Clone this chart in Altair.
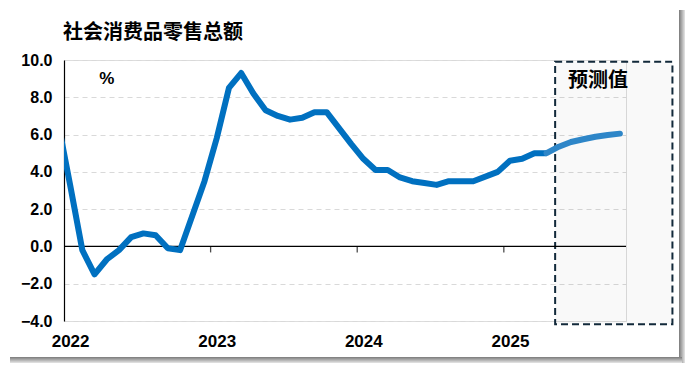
import altair as alt
import pandas as pd

title_text = "社会消费品零售总额"
unit_label = "%"
forecast_label = "预测值"

# YTD growth, % (January is reported together with February)
months_actual = [
    "2022-02", "2022-03", "2022-04", "2022-05", "2022-06", "2022-07", "2022-08",
    "2022-09", "2022-10", "2022-11", "2022-12",
    "2023-02", "2023-03", "2023-04", "2023-05", "2023-06", "2023-07", "2023-08",
    "2023-09", "2023-10", "2023-11", "2023-12",
    "2024-02", "2024-03", "2024-04", "2024-05", "2024-06", "2024-07", "2024-08",
    "2024-09", "2024-10", "2024-11", "2024-12",
    "2025-02", "2025-03", "2025-04", "2025-05", "2025-06",
]
values_actual = [
    6.7, 3.3, -0.2, -1.5, -0.7, -0.2, 0.5, 0.7, 0.6, -0.1, -0.2,
    3.5, 5.8, 8.5, 9.3, 8.2, 7.3, 7.0, 6.8, 6.9, 7.2, 7.2,
    5.5, 4.7, 4.1, 4.1, 3.7, 3.5, 3.4, 3.3, 3.5, 3.5, 3.5,
    4.0, 4.6, 4.7, 5.0, 5.0,
]
months_forecast = ["2025-06", "2025-07", "2025-08", "2025-09", "2025-10", "2025-11", "2025-12"]
values_forecast = [5.0, 5.35, 5.6, 5.75, 5.88, 5.98, 6.05]

year_labels = ["2022", "2023", "2024", "2025"]
y_ticks = [-4, -2, 0, 2, 4, 6, 8, 10]

# category axis: first category is March 2022, 46 categories shown
X_DOMAIN = [0, 46]
Y_DOMAIN = [-4, 10]
forecast_box = {"x": 40.2, "x2": 49.8, "y": 9.9, "y2": -4.17}


def pos(m):
    yr, mo = m.split("-")
    return (int(yr) - 2022) * 12 + int(mo) - 1 - 1.5


actual = pd.DataFrame({"x": [pos(m) for m in months_actual], "v": values_actual})
fcst = pd.DataFrame({"x": [pos(m) for m in months_forecast], "v": values_forecast})
year_pos = [i * 12 + 0.5 for i in range(len(year_labels))]
tick_pos = [i * 12 for i in range(1, len(year_labels))]
label_map = "{" + ",".join(f"'{p}':'{l}'" for p, l in zip(year_pos, year_labels)) + "}"

xs = alt.Scale(domain=X_DOMAIN, nice=False, zero=False)
ys = alt.Scale(domain=Y_DOMAIN, nice=False, zero=False)

x_axis = alt.Axis(
    values=year_pos, labelExpr=f"{label_map}[toString(datum.value)]",
    domain=False, ticks=False, grid=False, title=None,
    labelFont="Liberation Sans", labelFontSize=17, labelFontWeight="bold",
    labelColor="black", labelPadding=12, labelFlush=False, labelOverlap=False,
)
y_axis = alt.Axis(
    values=y_ticks, format=".1f", domain=True, domainColor="black", domainWidth=1.2,
    ticks=False, grid=True, gridColor="#d9d9d9", gridDash=[5, 4], gridWidth=1,
    labelFont="Liberation Sans", labelFontSize=16, labelFontWeight="bold",
    labelColor="black", labelPadding=12, title=None, labelOverlap=False, labelFlush=False,
)


def X(field):
    return alt.X(field, scale=xs, axis=x_axis)


def Y(field):
    return alt.Y(field, scale=ys, axis=y_axis)


box = alt.Chart(pd.DataFrame([forecast_box])).mark_rect(
    fill="black", fillOpacity=0.025, stroke="#12293a", strokeWidth=2,
    strokeDash=[7, 4], clip=False,
).encode(x=X("x:Q"), x2="x2:Q", y=Y("y:Q"), y2="y2:Q")

zero = alt.Chart(pd.DataFrame({"y": [0]})).mark_rule(color="black", strokeWidth=1.3).encode(
    y=Y("y:Q")
)
ticks = alt.Chart(pd.DataFrame({"x": tick_pos, "y": [0] * len(tick_pos)})).mark_tick(
    orient="vertical", color="black", thickness=1.3, size=6, yOffset=3
).encode(x=X("x:Q"), y=Y("y:Q"))

line_a = alt.Chart(actual).mark_line(
    color="#0070c0", strokeWidth=6, clip=True, strokeJoin="round"
).encode(x=X("x:Q"), y=Y("v:Q"))
line_f = alt.Chart(fcst).mark_line(
    color="#2e86c8", strokeWidth=6, clip=True, strokeJoin="round", strokeCap="round"
).encode(x=X("x:Q"), y=Y("v:Q"))

pct = alt.Chart(pd.DataFrame({"x": [3.5], "y": [9.0], "t": [unit_label]})).mark_text(
    font="Liberation Sans", fontSize=17, fontWeight="bold", color="black"
).encode(x=X("x:Q"), y=Y("y:Q"), text="t:N")

flab = alt.Chart(pd.DataFrame({"x": [43.7], "y": [8.88], "t": [forecast_label]})).mark_text(
    font="Noto Sans CJK SC", fontSize=20, fontWeight="bold", color="black"
).encode(x=X("x:Q"), y=Y("y:Q"), text="t:N")

frame_df = pd.DataFrame({"t": [title_text]})

# chart title, placed above the plot's left edge
title_mark = alt.Chart(frame_df).mark_text(
    font="Noto Sans CJK SC", fontSize=20, fontWeight="bold", color="black",
    align="left", baseline="middle", clip=False,
).encode(x=alt.value(-1), y=alt.value(-27), text="t:N")

# decorative card drop-shadow (frame only, not data)
shadow_r = alt.Chart(frame_df).mark_rect(
    clip=False,
    color=alt.Gradient(gradient="linear", x1=0, x2=1, y1=0, y2=0,
                       stops=[alt.GradientStop(offset=0, color="#7a7a7a"),
                              alt.GradientStop(offset=1, color="#e6e6e6")]),
).encode(x=alt.value(615), x2=alt.value(621), y=alt.value(-50), y2=alt.value(303))
shadow_b = alt.Chart(frame_df).mark_rect(
    clip=False,
    color=alt.Gradient(gradient="linear", x1=0, x2=0, y1=0, y2=1,
                       stops=[alt.GradientStop(offset=0, color="#7a7a7a"),
                              alt.GradientStop(offset=1, color="#e6e6e6")]),
).encode(x=alt.value(-54), x2=alt.value(618), y=alt.value(297), y2=alt.value(303))

chart = alt.layer(
    box, zero, ticks, line_a, line_f, pct, flab, title_mark, shadow_r, shadow_b
).properties(
    width=562, height=261,
    autosize=alt.AutoSizeParams(type="none"),
    padding={"left": 56, "top": 52, "right": 59, "bottom": 42},
).configure_view(stroke=None).configure(background="white")

chart.save("out.html", embed_options={"renderer": "svg", "actions": False})
